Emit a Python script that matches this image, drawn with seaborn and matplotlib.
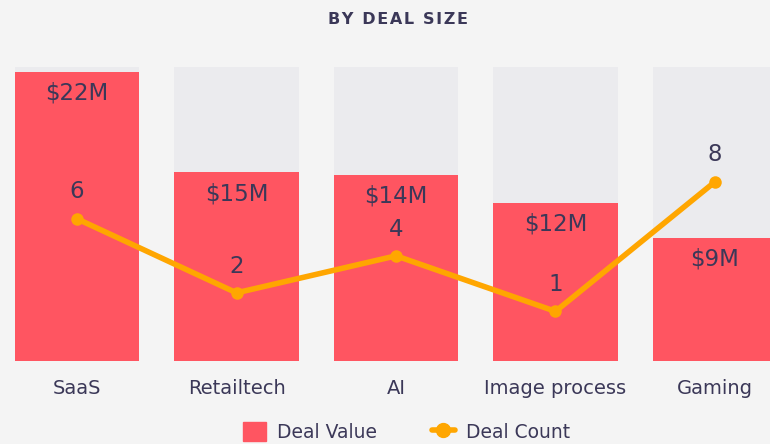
import numpy as np
import seaborn as sns
import matplotlib.pyplot as plt
from matplotlib.patches import Patch
from matplotlib.lines import Line2D

# data
categories = ["SaaS", "Retailtech", "AI", "Image process", "Gaming"]
deal_value = [21.9, 14.3, 14.1, 12.0, 9.3]   # $M
value_labels = ["$22M", "$15M", "$14M", "$12M", "$9M"]
deal_count = [6, 2, 4, 1, 8]

sns.set_style("white")
plt.rcParams["font.family"] = ["DejaVu Sans"]

bg = "#f4f4f4"
red = "#ff5561"
track = "#ebebee"
orange = "#ffa600"
ink = "#3b3858"

fig = plt.figure(figsize=(7.7, 4.44), dpi=100, facecolor=bg)
ax = fig.add_axes([0, 0.187, 1, 0.662])
ax.set_facecolor(bg)

ytop = 22.3
sns.barplot(x=categories, y=[ytop] * len(categories), color=track, width=0.78,
            saturation=1, linewidth=0, ax=ax)
sns.barplot(x=categories, y=deal_value, color=red, width=0.78,
            saturation=1, linewidth=0, ax=ax)
ax.set_ylim(0, ytop)
ax.set_xlim(-0.483, 4.345)

for i, (v, lab) in enumerate(zip(deal_value, value_labels)):
    ax.text(i, v - 1.6, lab, ha="center", va="center", fontsize=16.5, color=ink)

ax.tick_params(axis="x", length=0, labelsize=14, labelcolor=ink, pad=13)
ax.set_yticks([])
ax.set_xlabel("")
ax.set_ylabel("")
for s in ax.spines.values():
    s.set_visible(False)

ax2 = ax.twinx()
sns.lineplot(x=np.arange(len(categories)), y=deal_count, ax=ax2, color=orange,
             linewidth=4, marker="o", markersize=9, markeredgewidth=0)
ax2.set_ylim(-1.68, 14.2)
ax2.set_yticks([])
ax2.set_ylabel("")
for s in ax2.spines.values():
    s.set_visible(False)
for i, c in enumerate(deal_count):
    ax2.text(i, c + 1.45, str(c), ha="center", va="center", fontsize=16.5, color=ink)

title = "\u200a".join("BY DEAL SIZE")
fig.text(0.517, 0.955, title, ha="center", va="center", fontsize=11.5,
         fontweight="bold", color=ink)

handles = [Patch(color=red, label="Deal Value"),
           Line2D([], [], color=orange, linewidth=4, marker="o", markersize=10,
                  label="Deal Count")]
fig.legend(handles=handles, loc="center", bbox_to_anchor=(0.528, 0.027), ncol=2,
           frameon=False, fontsize=13.5, labelcolor=ink, handlelength=1.25,
           handleheight=1.2, handletextpad=0.6, columnspacing=2.9)

fig.savefig("out.png", dpi=100, facecolor=bg)
